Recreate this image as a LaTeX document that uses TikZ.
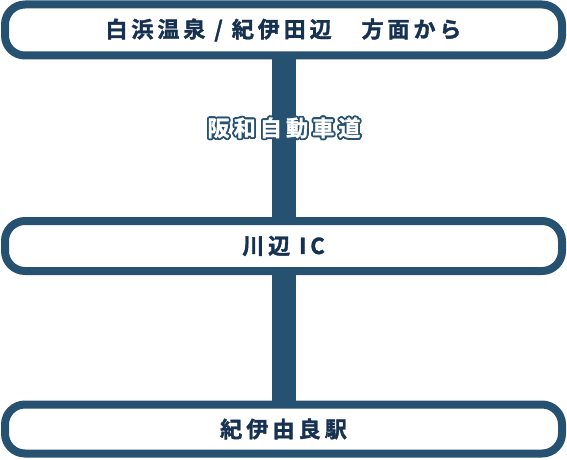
\documentclass[tikz,border=0pt]{standalone}
\usepackage{fontspec}
\usepackage[copies]{contour}
\newfontfamily\jpfont{Noto Sans CJK JP}[UprightFont=* Bold, LetterSpace=18, FakeBold=1.6]
\newfontfamily\jpwide{Noto Sans CJK JP}[UprightFont=* Bold, LetterSpace=19, FakeBold=1.6]
\definecolor{roadblue}{RGB}{38,81,112}
\definecolor{labelblue}{RGB}{22,50,80}
\contourlength{1.8pt}
\tikzset{placebox/.style={draw=roadblue, fill=white, line width=8pt, rounded corners=20pt, minimum width=557pt, inner sep=0pt, text=labelblue},
  road/.style={draw=roadblue, line width=24pt}}

\begin{document}
\begin{tikzpicture}[x=1pt, y=1pt]
    \useasboundingbox (0,0) rectangle (567,459);
    \node [placebox, minimum height=51pt] (from) at (283.5,429) {\jpfont\fontsize{22pt}{26pt}\selectfont 白浜温泉 / 紀伊田辺　方面から};
    \node [placebox, minimum height=50pt] (ic) at (283.5,213) {\jpfont\fontsize{22pt}{26pt}\selectfont 川辺 IC};
    \node [placebox, minimum height=49pt] (station) at (283.5,30) {\jpwide\fontsize{22pt}{26pt}\selectfont 紀伊由良駅};
    \draw [road] (284,0 |- from.south) -- node [pos=0.44, inner sep=0pt] (roadname) {\jpwide\fontsize{22pt}{26pt}\selectfont\contour{roadblue}{\textcolor{white}{阪和自動車道}}} (284,0 |- ic.north);
    \draw [road] (284,0 |- ic.south) -- (284,0 |- station.north);
  \end{tikzpicture}
\end{document}
